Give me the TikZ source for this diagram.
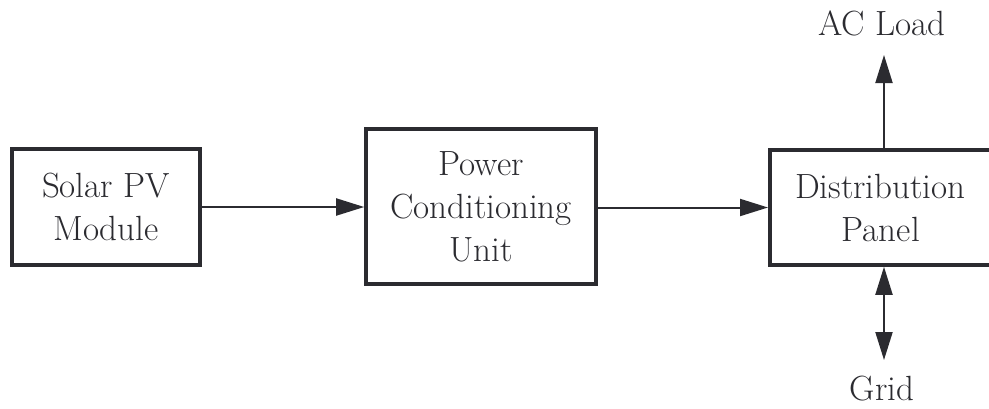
\documentclass[tikz,border=0pt]{standalone}
\usepackage{fontspec}
\usetikzlibrary{arrows.meta}
\definecolor{ink}{HTML}{2B2B30}
\begin{document}
\begin{tikzpicture}[x=1pt,y=-1pt,
  blk/.style={draw=ink,line width=3.6pt,fill=white,inner sep=0pt,align=center,text=ink,
    font=\fontsize{35}{43}\selectfont},
  lbl/.style={inner sep=0pt,text=ink,font=\fontsize{35}{43}\selectfont},
  conn/.style={draw=ink,line width=2pt,-{Triangle[length=28pt,width=17pt]}},
  bconn/.style={draw=ink,line width=2pt,{Triangle[length=28pt,width=17pt]}-{Triangle[length=28pt,width=17pt]}}]
\useasboundingbox (0,0) rectangle (989,408);
\node[blk,minimum width=188pt,minimum height=116pt] (pv) at (106,207) {Solar PV\\Module};
\node[blk,minimum width=230pt,minimum height=155pt] (pcu) at (481,206.5) {Power\\Conditioning\\Unit};
\node[blk,minimum width=222pt,minimum height=115pt,anchor=west] (dp) at (768,207.5) {\hspace*{-1pt}Distribution\\Panel};
\node[lbl,anchor=base] (ac) at (882,35) {AC Load};
\node[lbl,anchor=base] (grid) at (882,400) {Grid};
\coordinate (actip) at (884,55);
\coordinate (gridtip) at (884,360);
\draw[conn] (pv.east) -- (pv.east -| pcu.west);
\draw[conn] (pcu.east |- dp.west) -- (dp.west);
\draw[conn] (dp.north -| actip) -- (actip);
\draw[bconn] (dp.south -| gridtip) -- (gridtip);
\end{tikzpicture}
\end{document}
